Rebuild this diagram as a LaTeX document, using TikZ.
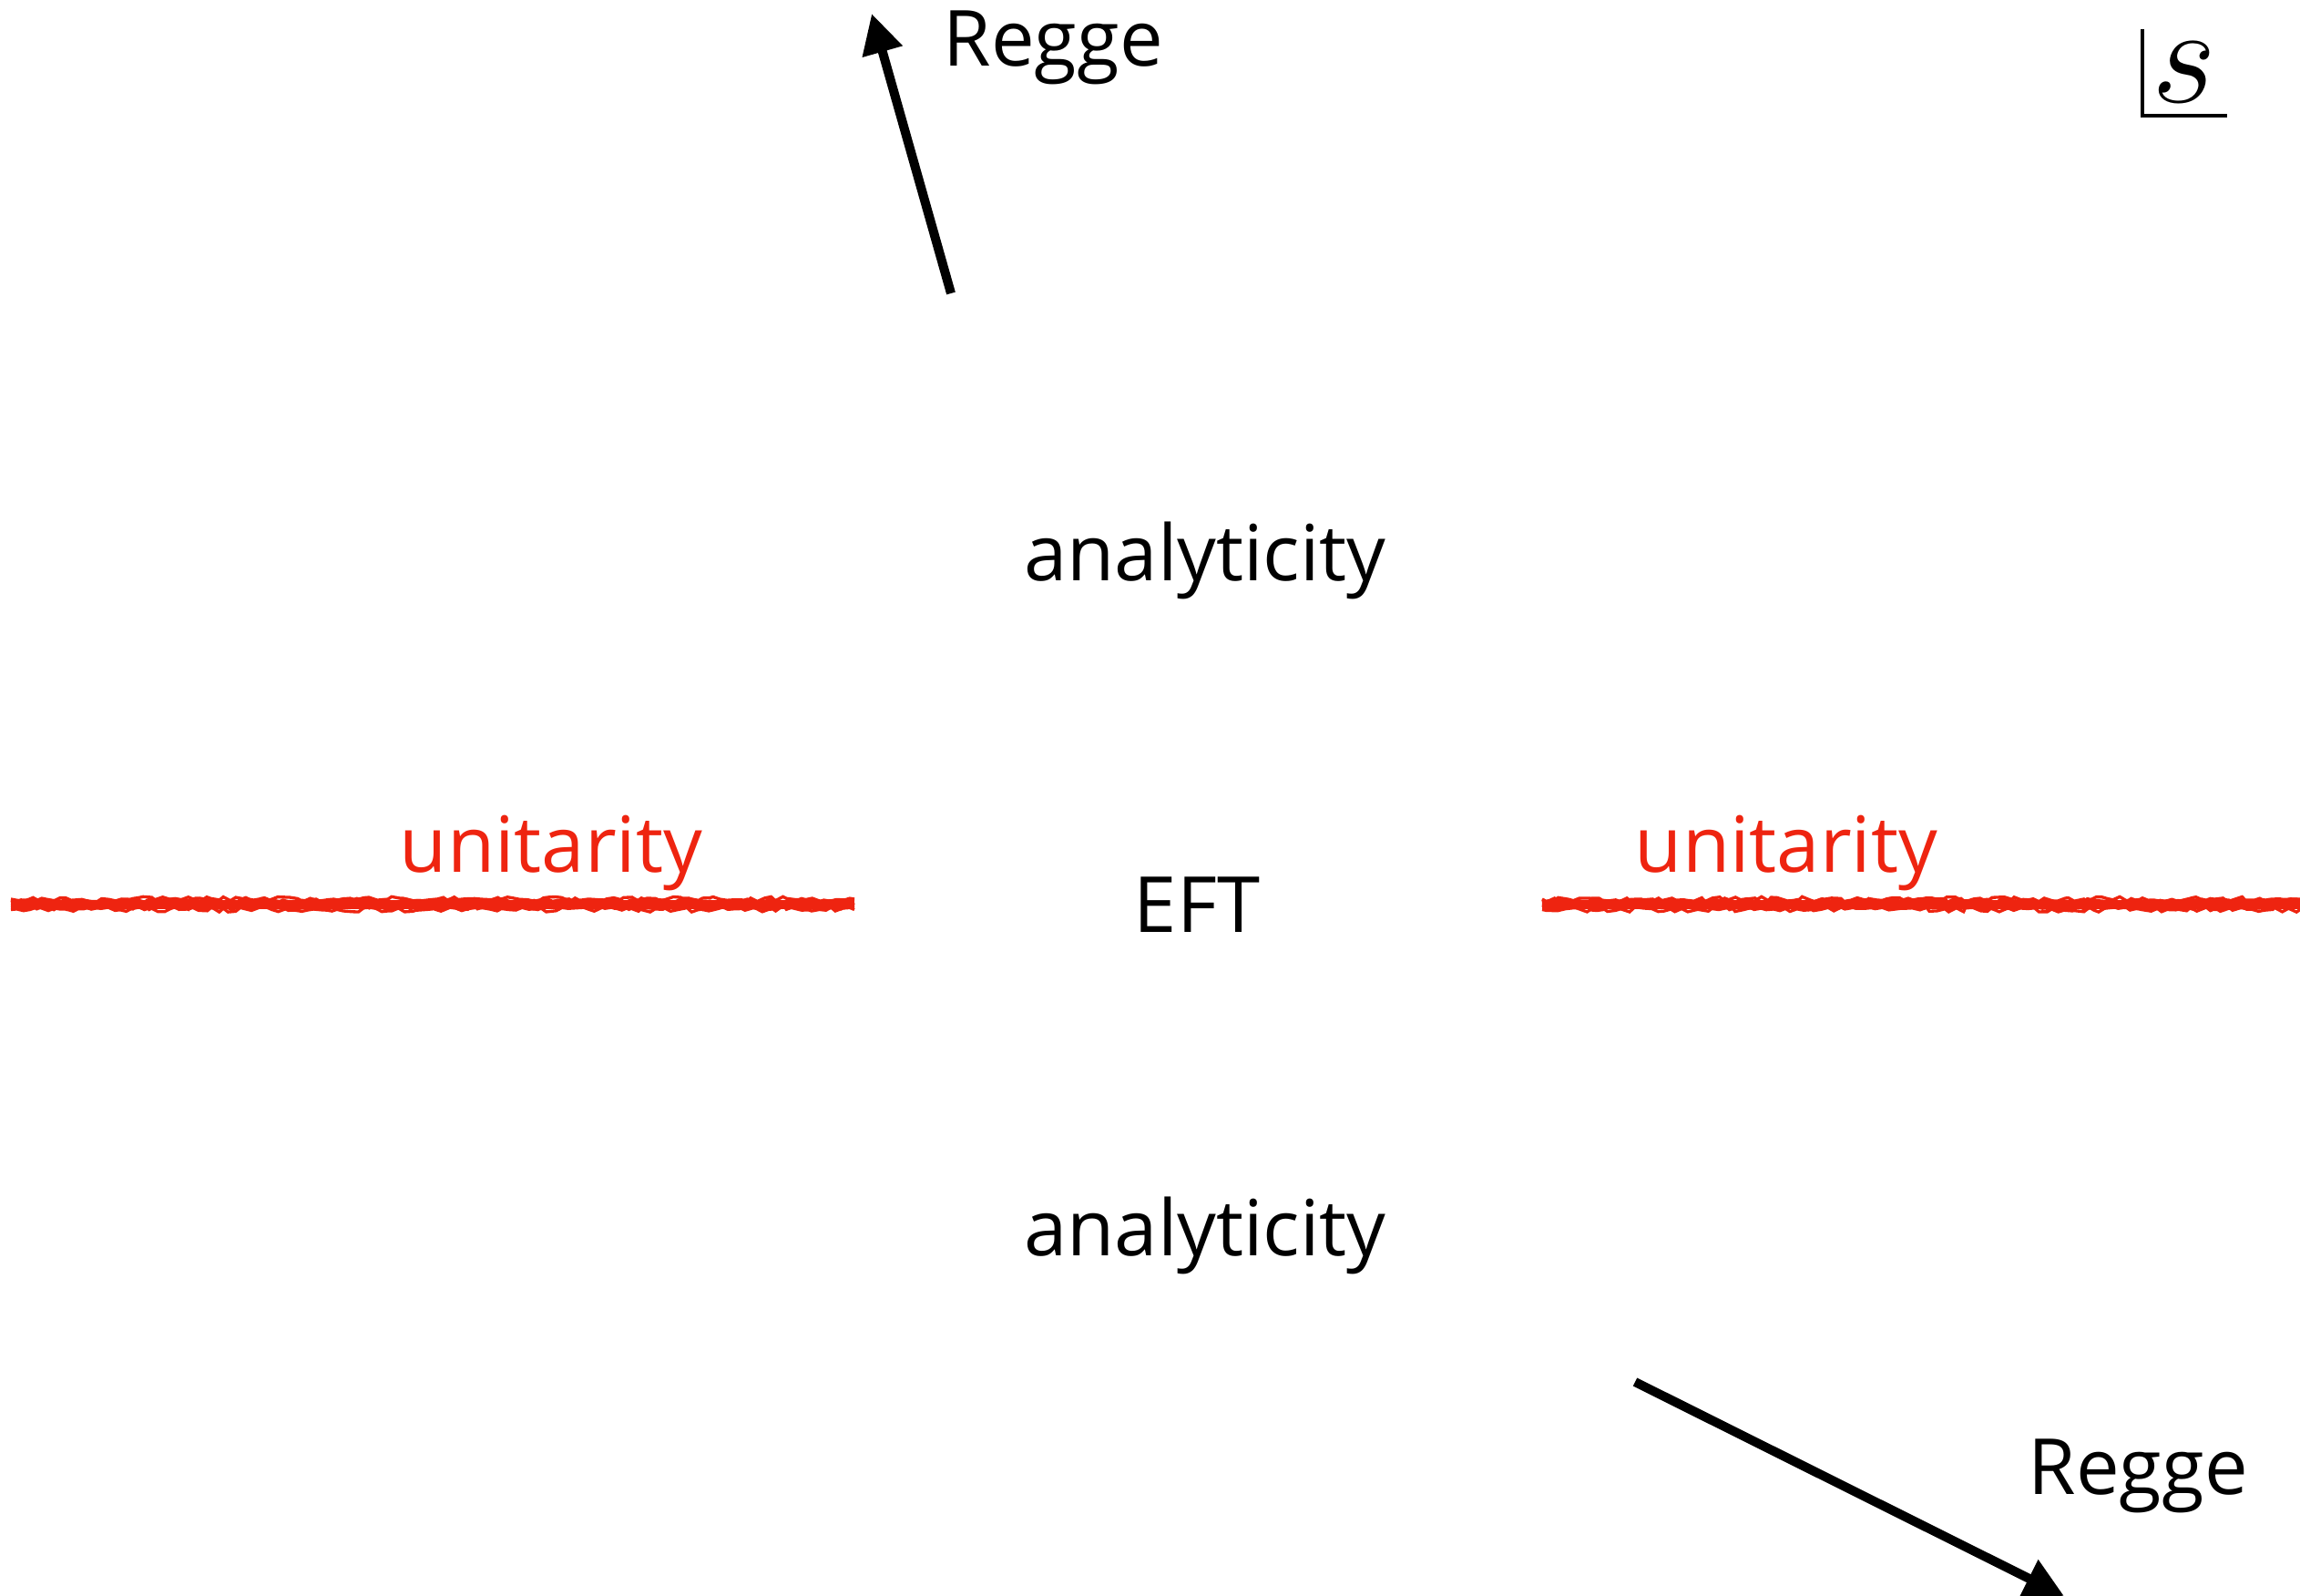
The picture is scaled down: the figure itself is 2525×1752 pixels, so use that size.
\RequirePackage{fix-cm}
\documentclass[tikz,border=0pt]{standalone}
\usepackage{fontspec}
\setmainfont{Open Sans}
\usetikzlibrary{arrows.meta,decorations.pathmorphing}
\definecolor{unitred}{RGB}{238,36,16}
\tikzset{
  lbl/.style={font=\fontsize{25.5}{30}\selectfont, inner sep=0pt, anchor=base},
  redlbl/.style={lbl, text=unitred},
  regge/.style={line width=3pt, -{Triangle[length=13pt,width=13pt]}},
  cutcore/.style={unitred, line width=3pt},
  cutfuzz/.style={unitred, line width=1pt, decorate,
    decoration={random steps, segment length=2pt, amplitude=0.8pt}},
  planeframe/.style={line width=1.35pt}
}
\begin{document}
\begin{tikzpicture}[x=0.3pt,y=-0.3pt]
  \useasboundingbox (0,0) rectangle (2525,1752);
  \clip (0,0) rectangle (2525,1752);
  \pgfmathsetseed{7}

  % labels
  \node[lbl] (anaTop) at (1323,638) {analyticity};
  \node[lbl] (anaBot) at (1323,1378) {analyticity};
  \node[lbl] (eft) at (1314,1023) {EFT};
  \node[redlbl] (uniL) at (605,957) {unitarity};
  \node[redlbl] (uniR) at (1961,957) {unitarity};
  \node[lbl, anchor=base west] (reggeTop) at (1035,73) {Regge};
  \node[lbl, anchor=base west] (reggeBot) at (2226,1640) {Regge};

  % branch cuts along the real axis
  \coordinate (cutLa) at (12,993);
  \coordinate (cutLb) at (938,993);
  \coordinate (cutRa) at (1693,993);
  \coordinate (cutRb) at (2525,993);
  \foreach \a/\b in {cutLa/cutLb, cutRa/cutRb}{
    \draw[cutcore] (\a) -- (\b);
    \foreach \dy in {-5.5,-3,-0.5,2,4.5,6}{
      \draw[cutfuzz] ([yshift=\dy*0.3pt]\a) -- ([yshift=\dy*0.3pt]\b);
    }
  }

  % Regge directions
  \coordinate (rtTail) at (1044,322);
  \coordinate (rtTip) at (957,15);
  \coordinate (rbTail) at (1795,1517);
  \coordinate (rbTip) at (2266,1752);
  \draw[regge] (rtTail) -- (rtTip);
  \draw[regge] (rbTail) -- (rbTip);

  % complex s-plane marker
  \coordinate (frTop) at (2352,32);
  \coordinate (frCorner) at (2352,127);
  \coordinate (frEnd) at (2445,127);
  \draw[planeframe] (frTop) -- (frCorner) -- (frEnd);
  \node[inner sep=0pt, anchor=base west, font=\fontsize{46}{50}\selectfont] (svar) at (2362,113) {$s$};
\end{tikzpicture}
\end{document}
